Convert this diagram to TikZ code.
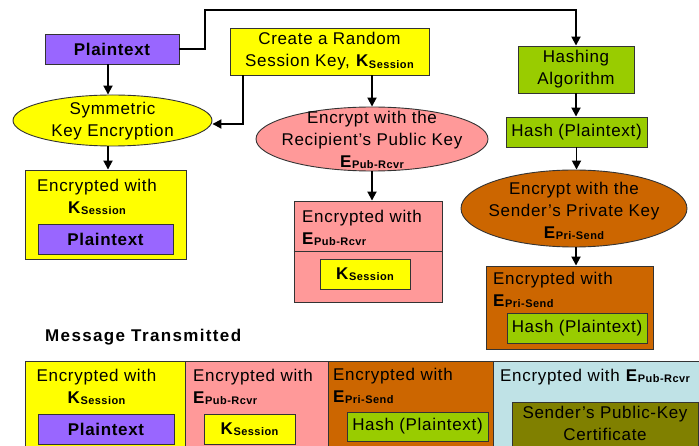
\documentclass[tikz,border=0pt]{standalone}
\usepackage{fontspec}
\setmainfont{Liberation Sans}[LetterSpace=4]
\usetikzlibrary{shapes.geometric,arrows.meta}
\definecolor{cPur}{HTML}{9966FF}
\definecolor{cYel}{HTML}{FFFF00}
\definecolor{cPink}{HTML}{FF9999}
\definecolor{cOra}{HTML}{CC6600}
\definecolor{cGrn}{HTML}{99CC00}
\definecolor{cOli}{HTML}{808000}
\definecolor{cBlu}{HTML}{BFE2E6}
\newcommand\mysubf{\fontsize{11}{11}\selectfont\bfseries}
\newcommand\mKs{\textbf{K}\raisebox{-1.5pt}{\mysubf Session}}
\newcommand\mEpr{\textbf{E}\raisebox{-1.5pt}{\mysubf Pub-Rcvr}}
\newcommand\mEps{\textbf{E}\raisebox{-1.5pt}{\mysubf Pri-Send}}
\begin{document}
\begin{tikzpicture}[x=1pt,y=-1pt,
  every node/.style={font=\fontsize{17}{22}\selectfont, inner sep=0pt},
  box/.style={draw=black!80, line width=0.9pt, rectangle, align=center},
  ell/.style={draw=black!80, line width=0.9pt, ellipse},
  txt/.style={align=center},
  ltxt/.style={align=left, anchor=west},
  arr/.style={line width=1.8pt, -{Triangle[length=9pt,width=9pt]}},
  conn/.style={line width=1.8pt}]
\useasboundingbox (0,0) rectangle (699,446);
\clip (0,0) rectangle (699,446);
\fill[white] (0,0) rectangle (699,446);

% top row
\node[box, fill=cPur, minimum width=134pt, minimum height=30pt, font=\fontsize{17}{22}\selectfont\bfseries] (plain) at (112,49) {Plaintext};
\node[box, fill=cYel, minimum width=199pt, minimum height=47pt] (create) at (329.5,51.5) {Create a Random\\Session Key, \mKs};
\node[box, fill=cGrn, minimum width=116pt, minimum height=47pt] (hashalg) at (576,69.5) {Hashing\\Algorithm};

% ellipses
\node[ell, fill=cYel, minimum width=199pt, minimum height=51pt] (symenc) at (112.5,120.5) {};
\node[txt] (symencT) at (112.5,121) {Symmetric\\Key Encryption};
\node[ell, fill=cPink, minimum width=232pt, minimum height=64pt] (recip) at (372,139) {};
\node[txt] (recipT) at (372,140) {Encrypt with the\\Recipient’s Public Key\\\mEpr};
\node[box, fill=cGrn, minimum width=141pt, minimum height=30pt] (hashpt) at (576.5,132) {Hash (Plaintext)};
\node[ell, fill=cOra, minimum width=226pt, minimum height=77pt] (sender) at (574,208.5) {};
\node[txt] (senderT) at (574,211) {Encrypt with the\\Sender’s Private Key\\\mEps};

% encrypted boxes
\node[box, fill=cYel, minimum width=161pt, minimum height=89pt] (encK) at (105.5,214.5) {};
\node[txt] (encKT) at (97,197) {Encrypted with\\\mKs};
\node[box, fill=cPur, minimum width=135pt, minimum height=30pt, font=\fontsize{17}{22}\selectfont\bfseries] (encKin) at (105.5,239) {Plaintext};

\node[box, fill=cPink, minimum width=148pt, minimum height=101pt] (encE) at (368,251.5) {};
\draw[black!80, line width=0.9pt] (encE.west) -- (encE.east);
\node[ltxt] (encET) at (302,228) {Encrypted with\\\mEpr};
\node[box, fill=cYel, minimum width=90pt, minimum height=30pt] (encEin) at (365,274) {\mKs};

\node[box, fill=cOra, minimum width=167pt, minimum height=83pt] (encP) at (569.5,307.5) {};
\node[ltxt] (encPT) at (493,290) {Encrypted with\\\mEps};
\node[box, fill=cGrn, minimum width=140pt, minimum height=30pt] (encPin) at (577,328) {Hash (Plaintext)};

% connectors
\coordinate (tl) at (205,10);
\draw[arr] (plain.east) -| (tl) -| (hashalg.north);
\draw[arr] ([xshift=-4pt]plain.south) -- ([xshift=-4pt]plain.south |- symenc.north);
\draw[arr] ([xshift=-4.5pt]symenc.south) -- ([xshift=-4.5pt]symenc.south |- encK.north);
\draw[arr] ([xshift=-86.5pt]create.south) |- ([yshift=-3.5pt]symenc.east);
\draw[arr] (recip.north |- create.south) -- (recip.north);
\draw[arr] (recip.south) -- (recip.south |- encE.north);
\draw[arr] (hashalg.south) -- (hashalg.south |- hashpt.north);
\draw[arr] (hashpt.south) -- (hashpt.south |- sender.north);
\draw[arr] ([xshift=2pt]sender.south) -- ([xshift=2pt]sender.south |- encP.north);

% message transmitted
\node[anchor=west, font=\fontsize{17}{22}\selectfont\bfseries\addfontfeature{LetterSpace=8}] (msg) at (45,337) {Message Transmitted};

\node[box, fill=cYel, minimum width=160pt, minimum height=109pt] (c1) at (105,415.5) {};
\node[txt] (c1T) at (96.5,387) {Encrypted with\\\mKs};
\node[box, fill=cPur, minimum width=136pt, minimum height=30pt, font=\fontsize{17}{22}\selectfont\bfseries] (c1in) at (106,429) {Plaintext};

\node[box, fill=cPink, minimum width=143pt, minimum height=109pt] (c2) at (256.5,415.5) {};
\node[ltxt] (c2T) at (193,387) {Encrypted with\\\mEpr};
\node[box, fill=cYel, minimum width=91pt, minimum height=30pt] (c2in) at (249.5,429) {\mKs};

\node[box, fill=cOra, minimum width=165pt, minimum height=109pt] (c3) at (410.5,415.5) {};
\node[ltxt] (c3T) at (333,386) {Encrypted with\\\mEps};
\node[box, fill=cGrn, minimum width=141pt, minimum height=29pt] (c3in) at (417.5,426.5) {Hash (Plaintext)};

\node[box, fill=cBlu, minimum width=227pt, minimum height=109pt] (c4) at (606.5,415.5) {};
\node[ltxt] (c4T) at (500,377) {Encrypted with \mEpr};
\node[box, fill=cOli, minimum width=186pt, minimum height=50pt] (c4in) at (605,427) {};
\node[txt] (c4inT) at (605,423) {Sender’s Public-Key\\Certificate};
\end{tikzpicture}
\end{document}
